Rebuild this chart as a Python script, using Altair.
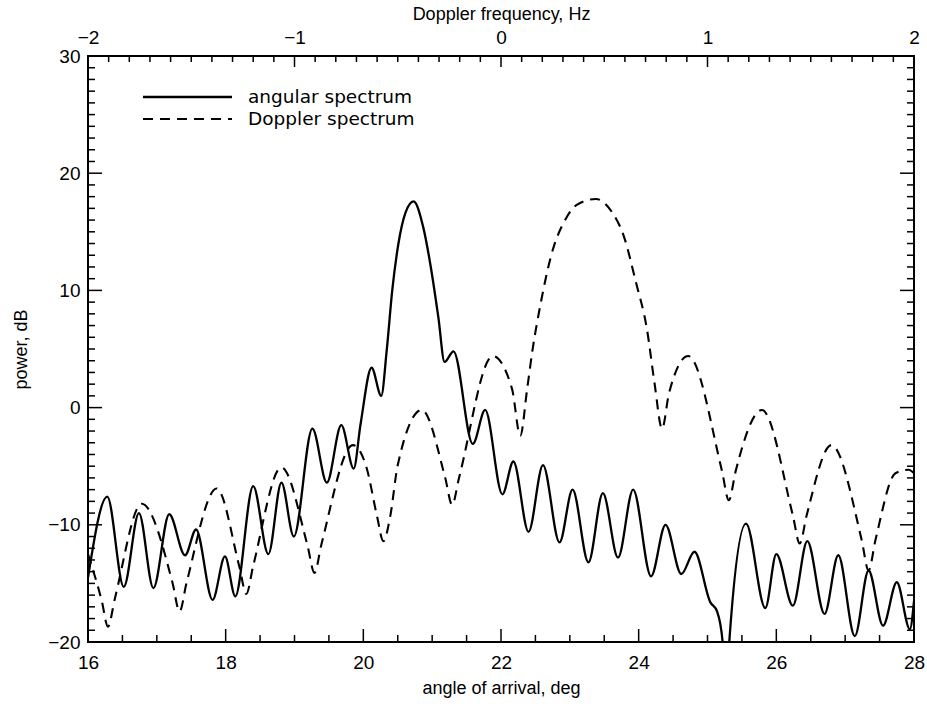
import altair as alt
import pandas as pd

# ---- angular spectrum (solid) : angle (deg), power (dB)
ang_x = [16.00, 16.28, 16.52, 16.74, 16.95, 17.18, 17.41, 17.57, 17.81, 17.99,
         18.14, 18.40, 18.62, 18.81, 18.99, 19.26, 19.47, 19.68, 19.86, 19.96,
         20.12, 20.26, 20.34, 20.42, 20.51, 20.61, 20.73, 20.87, 20.98, 21.09,
         21.18, 21.31, 21.59, 21.77, 22.02, 22.18, 22.40, 22.61, 22.85, 23.04,
         23.27, 23.48, 23.70, 23.92, 24.18, 24.39, 24.62, 24.81, 25.04, 25.14,
         25.22, 25.27, 25.32, 25.56, 25.84, 26.00, 26.24, 26.45, 26.70, 26.90,
         27.14, 27.34, 27.55, 27.75, 27.94, 28.00]
ang_y = [-14.5, -7.6, -15.3, -9.0, -15.4, -9.1, -12.6, -10.4, -16.4, -12.7,
         -16.1, -6.7, -12.5, -6.4, -11.0, -1.8, -6.4, -1.5, -5.2, -1.4,
         3.4, 1.0, 4.9, 10.0, 14.0, 16.6, 17.6, 15.4, 12.0, 7.7,
         3.9, 4.8, -3.1, -0.2, -7.4, -4.6, -10.6, -4.9, -11.5, -7.0,
         -13.2, -7.3, -12.8, -7.0, -14.4, -10.0, -14.2, -12.3, -16.6, -17.4,
         -20.0, -26.0, -19.7, -9.9, -17.1, -12.5, -16.9, -11.4, -17.6, -12.6,
         -19.5, -13.9, -18.6, -14.9, -18.9, -16.5]

# ---- Doppler spectrum (dashed) : angle (deg), power (dB)
dop_x = [16.00, 16.20, 16.29, 16.39, 16.78, 17.23, 17.33, 17.43, 17.87, 18.20,
         18.30, 18.40, 18.81, 19.19, 19.29, 19.39, 19.85, 20.05, 20.20, 20.29,
         20.39, 20.50, 20.85, 21.19, 21.29, 21.39, 21.88, 22.16, 22.28, 22.38,
         22.46, 22.58, 22.73, 22.94, 23.10, 23.38, 23.61, 23.78, 23.96, 24.12,
         24.23, 24.34, 24.44, 24.72, 25.21, 25.31, 25.41, 25.79, 26.24, 26.34,
         26.44, 26.80, 27.24, 27.34, 27.44, 27.73, 27.92, 28.00]
dop_y = [-12.5, -16.5, -18.7, -16.3, -8.2, -15.0, -17.4, -15.0, -6.9, -13.6,
         -15.9, -13.5, -5.1, -11.8, -14.1, -11.7, -3.2, -5.2, -9.3, -11.4,
         -9.3, -4.9, -0.2, -6.0, -8.3, -6.0, 4.4, 1.6, -2.4, 1.6,
         5.0, 9.0, 13.0, 16.1, 17.3, 17.8, 16.7, 14.7, 10.7, 6.7,
         2.1, -1.8, 1.2, 4.4, -5.4, -7.9, -5.4, -0.2, -9.2, -11.6,
         -9.2, -3.2, -11.3, -13.9, -11.3, -5.6, -5.3, -5.6]

series_names = ["angular spectrum", "Doppler spectrum"]

# ---- axis tick values
x_major = [16, 18, 20, 22, 24, 26, 28]
x_minor = [v / 2 for v in range(33, 56) if v % 4 != 0]
y_major = [-20, -10, 0, 10, 20, 30]
y_minor = [v for v in range(-19, 30) if v % 10 != 0]
f_major = [-2, -1, 0, 1, 2]
f_minor = [v / 10 for v in range(-19, 20) if v % 10 != 0]

W, H = 826, 586
FONT = "Liberation Sans"
LEG_FONT = "DejaVu Sans"

ang_df = pd.DataFrame({"angle": ang_x, "power": ang_y})
dop_df = pd.DataFrame({"angle": dop_x, "power": dop_y})

xs = alt.Scale(domain=[16, 28], nice=False, zero=False)
ys = alt.Scale(domain=[-20, 30], nice=False, zero=False)
fs = alt.Scale(domain=[-2, 2], nice=False, zero=False)

common = dict(ticks=False, domain=False, grid=False, labelFlush=False, labelOverlap=False,
              labelFont=FONT, labelFontSize=19, labelColor="black",
              titleFont=FONT, titleFontSize=18, titleFontWeight="normal", titleColor="black",
              format="d")

x_axis = alt.Axis(values=x_major, title="angle of arrival, deg", orient="bottom",
                  labelPadding=11, titlePadding=7, **common)
y_axis = alt.Axis(values=y_major, title="power, dB", orient="left",
                  labelPadding=8, titlePadding=17, **common)
f_axis = alt.Axis(values=f_major, title="Doppler frequency, Hz", orient="top",
                  labelPadding=9, titlePadding=5, **common)

solid = alt.Chart(ang_df).mark_line(
    color="black", strokeWidth=2.3, interpolate="monotone", clip=True
).encode(
    x=alt.X("angle:Q", scale=xs, axis=x_axis),
    y=alt.Y("power:Q", scale=ys, axis=y_axis),
)

dashed = alt.Chart(dop_df).mark_line(
    color="black", strokeWidth=2.1, strokeDash=[10, 7], interpolate="monotone", clip=True
).encode(
    x=alt.X("angle:Q", scale=xs),
    y=alt.Y("power:Q", scale=ys),
)


def vticks(vals, y0, y1):
    return alt.Chart(pd.DataFrame({"v": vals})).mark_rule(color="black", strokeWidth=1.5).encode(
        x=alt.X("v:Q", scale=xs), y=alt.value(y0), y2=alt.value(y1))


def hticks(vals, x0, x1):
    return alt.Chart(pd.DataFrame({"v": vals})).mark_rule(color="black", strokeWidth=1.5).encode(
        y=alt.Y("v:Q", scale=ys), x=alt.value(x0), x2=alt.value(x1))


bottom_major = vticks(x_major, H, H - 13)
bottom_minor = vticks(x_minor, H, H - 7)
left_major = hticks(y_major, 0, 14)
left_minor = hticks(y_minor, 0, 7)
right_major = hticks(y_major, W, W - 14)
right_minor = hticks(y_minor, W, W - 7)

legend_df = pd.DataFrame({"name": series_names, "row": [0, 1]})
leg_solid = alt.Chart(legend_df).transform_filter("datum.row == 0").mark_rule(
    color="black", strokeWidth=2.3).encode(
    x=alt.value(55), x2=alt.value(144), y=alt.value(41))
leg_dash = alt.Chart(legend_df).transform_filter("datum.row == 1").mark_rule(
    color="black", strokeWidth=2.1, strokeDash=[10, 7]).encode(
    x=alt.value(55), x2=alt.value(144), y=alt.value(63))
leg_text = alt.Chart(legend_df).mark_text(
    align="left", baseline="middle", font=LEG_FONT, fontSize=18.5, color="black").encode(
    x=alt.value(160), y=alt.Y("row:Q", scale=alt.Scale(domain=[0, 1], range=[41, 63]), axis=None),
    text="name:N")

main = alt.layer(solid, dashed, bottom_major, bottom_minor, left_major, left_minor,
                 right_major, right_minor, leg_solid, leg_dash)

top_major = alt.Chart(pd.DataFrame({"f": f_major})).mark_rule(color="black", strokeWidth=1.5).encode(
    x=alt.X("f:Q", scale=fs, axis=f_axis), y=alt.value(0), y2=alt.value(11))
top_minor = alt.Chart(pd.DataFrame({"f": f_minor})).mark_rule(color="black", strokeWidth=1.5).encode(
    x=alt.X("f:Q", scale=fs), y=alt.value(0), y2=alt.value(6))
top = alt.layer(top_major, top_minor)

chart = alt.layer(main, top, leg_text).resolve_scale(x="independent", y="independent").properties(
    width=W, height=H,
    padding={"left": 88, "top": 56, "right": 13, "bottom": 64},
    autosize=alt.AutoSizeParams(type="none"),
    background="white",
).configure_view(
    stroke="black", strokeWidth=2
)

chart.save("out.html", embed_options={"renderer": "svg", "actions": False})
